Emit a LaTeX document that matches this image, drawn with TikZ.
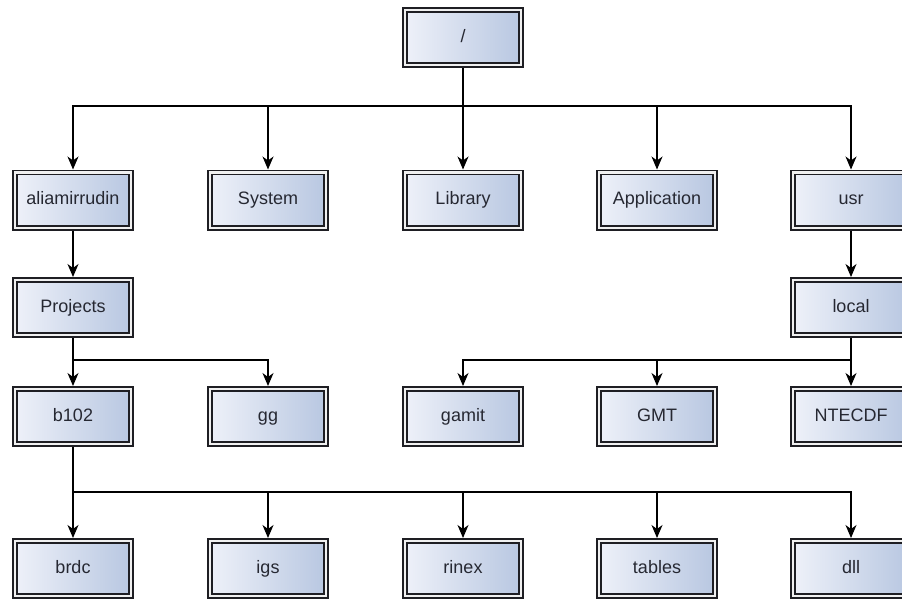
\documentclass[tikz,border=0pt]{standalone}
\usepackage{fontspec}
\setmainfont{Liberation Sans}
\usetikzlibrary{arrows.meta,shadows}
\definecolor{boxleft}{RGB}{238,241,249}
\definecolor{boxright}{RGB}{184,199,225}
\definecolor{boxline}{RGB}{30,30,35}
\definecolor{labeltext}{RGB}{38,40,50}

\begin{document}
\begin{tikzpicture}[x=1pt,y=-1pt,
  folder/.style={draw=boxline, line width=1.6pt, double=black!6, double distance=2.4pt,
    left color=boxleft, right color=boxright, minimum width=116.4pt, minimum height=55.4pt,
    font=\fontsize{18}{21}\selectfont, text=labeltext, text height=12.5pt, text depth=3.5pt,
    outer sep=2.8pt, drop shadow={shadow xshift=2pt,shadow yshift=-2pt,opacity=.2}},
  link/.style={line width=1.1pt, -{Stealth[length=13pt,width=11pt,inset=4pt]}}]
\useasboundingbox (0,0) rectangle (902,598);
\clip (0,0) rectangle (902,598);

% directories
\node[folder] (root) at (463,37.5) {/};

\node[folder] (ali) at (73,200) {aliamirrudin};
\node[folder] (sys) at (268,200) {System};
\node[folder] (lib) at (463,200) {Library};
\node[folder] (app) at (657,200) {Application};
\node[folder] (usr) at (851,200) {usr};

\node[folder] (proj) at (73,307.5) {Projects};
\node[folder] (local) at (851,307.5) {local};

\node[folder] (b102) at (73,416.5) {b102};
\node[folder] (gg) at (268,416.5) {gg};
\node[folder] (gamit) at (463,416.5) {gamit};
\node[folder] (gmt) at (657,416.5) {GMT};
\node[folder] (netcdf) at (851,416.5) {NTECDF};

\node[folder] (brdc) at (73,568.5) {brdc};
\node[folder] (igs) at (268,568.5) {igs};
\node[folder] (rinex) at (463,568.5) {rinex};
\node[folder] (tables) at (657,568.5) {tables};
\node[folder] (dll) at (851,568.5) {dll};

% branch points
\coordinate (j0) at (463,106);
\coordinate (j1) at (73,360);
\coordinate (j2) at (851,360);
\coordinate (j3) at (73,492);

\foreach \n in {ali,sys,lib,app,usr}
  \draw[link] (root.south) -- (j0) -| (\n.north);
\draw[link] (ali) -- (proj);
\draw[link] (usr) -- (local);
\foreach \n in {b102,gg}
  \draw[link] (proj.south) -- (j1) -| (\n.north);
\foreach \n in {gamit,gmt,netcdf}
  \draw[link] (local.south) -- (j2) -| (\n.north);
\foreach \n in {brdc,igs,rinex,tables,dll}
  \draw[link] (b102.south) -- (j3) -| (\n.north);
\end{tikzpicture}
\end{document}
